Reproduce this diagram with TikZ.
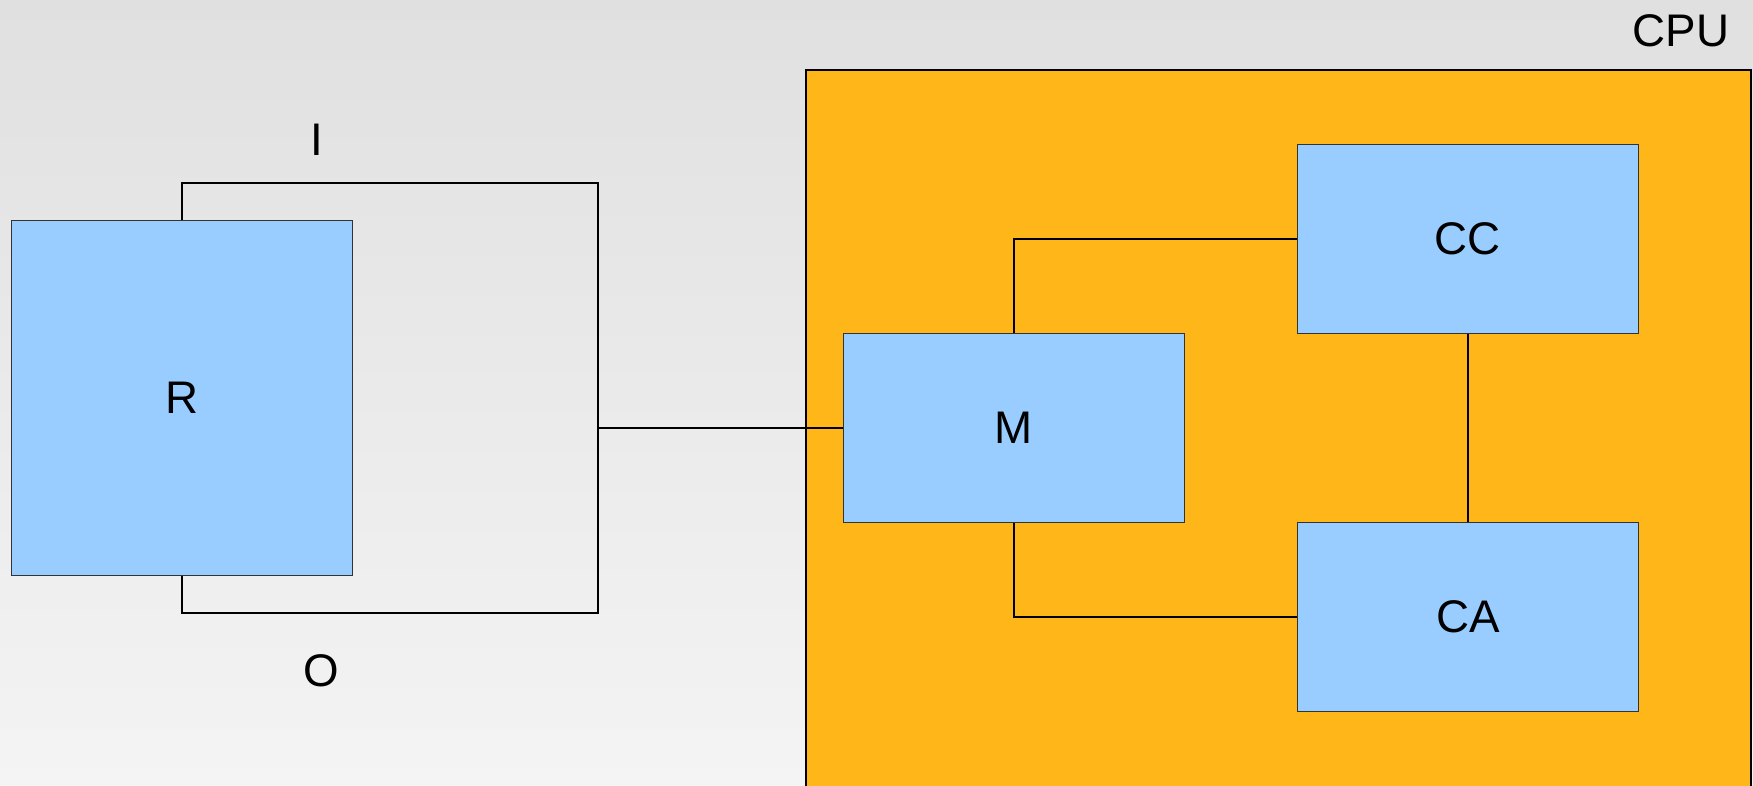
\documentclass[tikz,border=0pt]{standalone}
\usepackage{fontspec}
\setmainfont{Liberation Sans}
\usepackage{tikz}

\definecolor{bgtop}{HTML}{E0E0E0}
\definecolor{bgbot}{HTML}{F4F4F4}
\definecolor{cpuorange}{HTML}{FFB619}
\definecolor{boxblue}{HTML}{99CCFF}

\begin{document}
\begin{tikzpicture}
	 [x=0.01cm,y=-0.01cm,line width=0.35pt,every node/.style={font=\fontsize{13}{15}\selectfont},
	  unit/.style={draw=black!80,fill=boxblue,minimum width=3.41cm,minimum height=1.89cm}]

  \clip (0,0) rectangle (1753,786);
  \shade[top color=bgtop,bottom color=bgbot] (0,0) rectangle (1753,786);
  \draw[fill=cpuorange] (806,70) rectangle (1751,800);
  \node (cpu) at (1681,31) {CPU};

  \node[unit,minimum height=3.55cm] (r) at (182,398) {R};
    \node[unit] (m) at (1014,428) {M};
    \node[unit] (cc) at (1468,239) {CC};
    \node[unit] (ca) at (1468,617) {CA};

    \node (i) at (317,140) {I};
    \node (o) at (321,671) {O};

	 \coordinate (tr) at (598,183);
    \coordinate (br) at (598,613);
    \coordinate (mid) at (598,428);
    \draw (r.north) |- (tr) -- (br) -| (r.south);
    \draw (mid) -- (m.west);

    \draw (m.north) |- (cc.west);
    \draw (m.south) |- (ca.west);
    \draw (cc.south) -- (ca.north);

\end{tikzpicture}
\end{document}
